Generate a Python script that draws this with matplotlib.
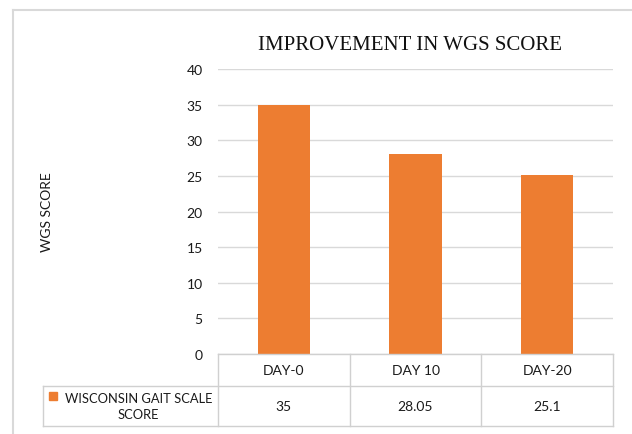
import matplotlib
matplotlib.use("Agg")
import matplotlib.pyplot as plt
from matplotlib.lines import Line2D
from matplotlib.patches import Rectangle
import matplotlib.transforms as mtransforms

categories = ["DAY-0", "DAY 10", "DAY-20"]
values = [35, 28.05, 25.1]
value_labels = ["35", "28.05", "25.1"]
series_name = "WISCONSIN GAIT SCALE\nSCORE"
yticks = [0, 5, 10, 15, 20, 25, 30, 35, 40]

W, H = 632, 435
fig = plt.figure(figsize=(W / 100, H / 100), dpi=100)
sans = ["Lato", "DejaVu Sans"]
serif = ["Liberation Serif", "DejaVu Serif"]
orange = "#ED7D31"
grid = "#d9d9d9"

def fx(px):
    return px / W

def fy(py):
    return 1 - py / H

# outer chart border (left and top visible)
fig.add_artist(Line2D([fx(13), fx(13)], [fy(11), 0], color=grid, lw=1.5))
fig.add_artist(Line2D([fx(13), 1], [fy(11), fy(11)], color=grid, lw=1.5))

left_px, right_px, top_px, bot_px = 218, 613, 70, 355
ax = fig.add_axes([fx(left_px), fy(bot_px), fx(right_px - left_px), (bot_px - top_px) / H])
x = list(range(len(categories)))
ax.bar(x, values, width=0.4, color=orange, zorder=3)
ax.set_xlim(-0.5, len(categories) - 0.5)
ax.set_ylim(0, 40)
ax.set_yticks(yticks)
ax.set_yticklabels([str(t) for t in yticks], fontfamily=sans, fontsize=10, color="#1a1a1a")
ax.tick_params(axis="y", length=0, pad=11)
ax.set_xticks([])
for s in ax.spines.values():
    s.set_visible(False)
ax.yaxis.grid(True, color=grid, lw=1, zorder=0)
ax.set_axisbelow(True)

fig.text(fx(410), fy(45), "IMPROVEMENT IN WGS SCORE", fontfamily=serif, fontsize=15,
         ha="center", va="center", color="#111111")
fig.text(fx(47), fy(212), "WGS SCORE", fontfamily=sans, fontsize=10, rotation=90,
         ha="center", va="center", color="#1a1a1a")

# data table under the axis
row_top, row_mid, row_bot = 355, 387, 427
tbl_left = 43
# blended transform: x in data coords, y in figure coords
trans = mtransforms.blended_transform_factory(ax.transData, fig.transFigure)
lc = "#d0d0d0"
fig.add_artist(Line2D([fx(left_px), fx(right_px)], [fy(row_top)] * 2, color=lc, lw=1))
fig.add_artist(Line2D([fx(tbl_left), fx(right_px)], [fy(row_mid)] * 2, color=lc, lw=1))
fig.add_artist(Line2D([fx(tbl_left), fx(right_px)], [fy(row_bot)] * 2, color=lc, lw=1))
for b in [i - 0.5 for i in x] + [len(categories) - 0.5]:
    fig.add_artist(Line2D([b, b], [fy(row_top), fy(row_bot)], color=lc, lw=1, transform=trans))
fig.add_artist(Line2D([fx(tbl_left)] * 2, [fy(row_mid), fy(row_bot)], color=lc, lw=1))

for i, (c, lab) in enumerate(zip(categories, value_labels)):
    fig.text(i, fy((row_top + row_mid) / 2), c, transform=trans, ha="center", va="center",
             fontfamily=sans, fontsize=10, color="#1a1a1a")
    fig.text(i, fy((row_mid + row_bot) / 2), lab, transform=trans, ha="center", va="center",
             fontfamily=sans, fontsize=10, color="#1a1a1a")

fig.add_artist(Rectangle((fx(49), fy(401)), 8 / W, 8 / H, color=orange, transform=fig.transFigure))
fig.text(fx(138.5), fy(407), series_name, ha="center", va="center", fontfamily=sans,
         fontsize=9.3, color="#1a1a1a", linespacing=1.35, multialignment="center")

fig.savefig("out.png", dpi=100, facecolor="white")
